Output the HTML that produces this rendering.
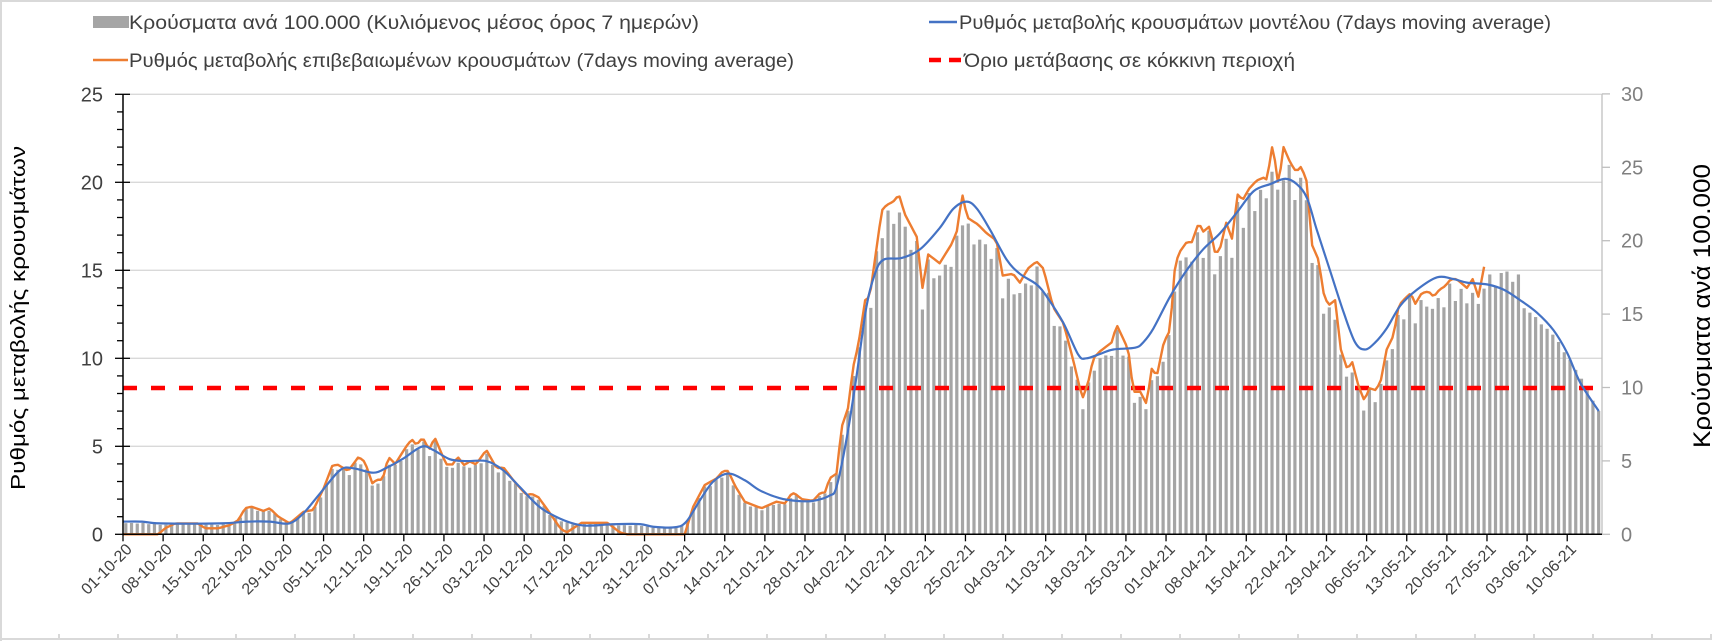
<!DOCTYPE html>
<html><head><meta charset="utf-8">
<style>
html,body{margin:0;padding:0;background:#fff;}
svg{display:block;font-family:"Liberation Sans",Arial,sans-serif;}
</style></head>
<body>
<svg id="c" width="1712" height="641" viewBox="0 0 1712 641" xmlns="http://www.w3.org/2000/svg">
<rect x="0" y="0" width="1712" height="641" fill="#fff"/>
<g id="frame" stroke="#d9d9d9" stroke-width="2" fill="none">
<line x1="0" y1="1" x2="1712" y2="1"/>
<line x1="1" y1="0" x2="1" y2="641"/>
<line x1="0" y1="639" x2="1712" y2="639"/>
</g>
<g id="grid" stroke="#d9d9d9" stroke-width="1.3"></g>
<g id="bars" fill="#a5a5a5"></g>
<line x1="123" y1="388" x2="1602" y2="388" stroke="#ff0000" stroke-width="4.5" stroke-dasharray="14,14"/>
<path id="orange" fill="none" stroke="#ed7d31" stroke-width="2.4" stroke-linejoin="round"/>
<path id="blue" fill="none" stroke="#4472c4" stroke-width="2.2" stroke-linejoin="round"/>
<g id="axes"></g>
<g id="labels"></g>
<!-- legend -->
<rect x="93" y="16" width="36" height="12" fill="#a5a5a5"/>
<text x="129" y="29" font-size="19" fill="#404040" textLength="570" lengthAdjust="spacingAndGlyphs">Κρούσματα ανά 100.000 (Κυλιόμενος μέσος όρος 7 ημερών)</text>
<line x1="93" y1="60" x2="128" y2="60" stroke="#ed7d31" stroke-width="2.5"/>
<text x="129" y="67" font-size="19" fill="#404040" textLength="665" lengthAdjust="spacingAndGlyphs">Ρυθμός μεταβολής επιβεβαιωμένων κρουσμάτων (7days moving average)</text>
<line x1="929" y1="22" x2="957" y2="22" stroke="#4472c4" stroke-width="2.5"/>
<text x="959" y="29" font-size="19" fill="#404040" textLength="592" lengthAdjust="spacingAndGlyphs">Ρυθμός μεταβολής κρουσμάτων μοντέλου (7days moving average)</text>
<line x1="929" y1="60" x2="962" y2="60" stroke="#ff0000" stroke-width="4.5" stroke-dasharray="12,8"/>
<text x="964" y="67" font-size="19" fill="#404040" textLength="331" lengthAdjust="spacingAndGlyphs">Όριο μετάβασης σε κόκκινη περιοχή</text>
<!-- axis titles -->
<text transform="translate(25,318) rotate(-90)" text-anchor="middle" font-size="20" fill="#000" textLength="344" lengthAdjust="spacingAndGlyphs">Ρυθμός μεταβολής κρουσμάτων</text>
<text transform="translate(1710,306) rotate(-90)" text-anchor="middle" font-size="24" fill="#000" textLength="284" lengthAdjust="spacingAndGlyphs">Κρούσματα ανά 100.000</text>
</svg>
<script>
(function(){
var NS="http://www.w3.org/2000/svg";
function el(t,a,p){var e=document.createElementNS(NS,t);for(var k in a)e.setAttribute(k,a[k]);if(p)p.appendChild(e);return e;}
var X0=123,DX=5.731,Y0=534.3,LU=17.6,RU=14.68,XR=1602;
function xd(d){return X0+d*DX;}
function interp(pts,d){
 if(d<=pts[0][0])return pts[0][1];
 for(var i=1;i<pts.length;i++){if(d<=pts[i][0]){var a=pts[i-1],b=pts[i];return a[1]+(b[1]-a[1])*(d-a[0])/(b[0]-a[0]);}}
 return pts[pts.length-1][1];
}
var orange=[[0,0],[6.2,0],[7.3,.34],[9.1,.62],[13.1,.62],[14.3,.34],[16.6,.34],[18.7,.53],[20.1,.8],[21.3,1.48],[22.4,1.57],[24.5,1.33],[25.6,1.48],[27.1,1.0],[29.1,.62],[31.5,1.28],[33.2,1.38],[35,2.6],[36.5,3.88],[37.4,3.97],[39.3,3.6],[41.1,4.4],[42.2,4.12],[43.5,2.9],[44.3,3.1],[45.3,3.1],[46.3,4.4],[47.5,4.0],[49.4,4.98],[50.4,5.4],[51.2,5.07],[52.3,5.5],[53.4,4.8],[54.4,5.5],[56.4,3.97],[57.5,3.97],[58.4,4.4],[59.6,3.9],[60.4,4.16],[61.6,3.97],[63.4,4.8],[65.2,3.75],[66.4,3.8],[68.1,3.07],[70.4,2.23],[71.3,2.3],[72.5,2.1],[74.5,1.2],[76.3,.34],[77.4,.1],[80,.65],[84.6,.65],[86.7,.1],[88,0],[98,0],[99.5,1.57],[101.5,2.8],[103.6,3.18],[104.7,3.6],[105.6,3.6],[106.8,2.75],[108.5,1.85],[111.4,1.48],[114,1.85],[115.5,1.76],[116.7,2.33],[117.2,2.33],[118.4,2.0],[120.4,1.9],[121.6,2.33],[122.5,2.4],[123.3,3.18],[124.5,3.45],[125.4,6.1],[126.5,7.16],[127.4,9.5],[128.3,10.75],[129.5,13.3],[130.3,13.5],[132.4,18.4],[133.2,18.7],[134.4,18.9],[135.4,19.3],[136.4,18.2],[138.5,16.9],[139.5,14.0],[140.5,15.9],[142.5,15.4],[144.6,16.5],[145.6,17.3],[146.4,19.4],[147.3,18.0],[149.2,17.6],[150.7,17.1],[152.4,16.7],[153.5,14.7],[155.3,14.8],[156.5,14.3],[157.9,15.1],[159.4,15.5],[160.6,15.1],[162.3,12.9],[164.1,12.0],[165.8,9.9],[167.4,7.7],[168.4,8.6],[169.3,10.0],[170.5,10.4],[172.5,10.9],[173.4,11.9],[175.4,10.5],[176.3,8.1],[177.5,8.1],[178.6,7.4],[179.5,9.4],[180.4,9.0],[181.6,10.9],[182.7,11.6],[183.6,15.4],[184.5,16.1],[185.6,16.6],[186.5,16.6],[187.7,17.7],[188.5,17.2],[189.6,17.5],[190.6,15.9],[191.4,16.2],[192.5,17.7],[193.5,16.8],[194.5,19.3],[195.4,19.0],[196.4,19.6],[197.8,20.1],[199.3,20.3],[199.6,20.1],[200.6,22.2],[201.6,19.8],[202.5,22.0],[203.7,21.1],[204.7,20.6],[205.6,20.9],[206.6,20.0],[207.4,16.5],[208.6,15.6],[209.5,13.7],[210.3,13.0],[211.5,13.3],[212.5,10.5],[213.7,9.3],[214.4,9.9],[215.6,8.4],[216.6,7.6],[217.5,8.3],[218.5,8.2],[219.4,8.6],[220.5,10.5],[221.7,11.3],[222.6,13.0],[223.7,13.4],[224.7,13.7],[225.5,13.1],[226.6,13.7],[227.8,13.8],[228.7,13.5],[229.7,13.9],[230.7,14.1],[231.7,14.5],[232.7,14.5],[234.5,14.0],[235.5,14.5],[236.5,13.5],[237.5,15.2]];
var blue=[[0,.72],[3.3,.72],[6.5,.62],[17,.62],[21.6,.72],[25.6,.72],[29,.62],[31.5,1.2],[34.4,2.33],[37.9,3.65],[40.2,3.75],[43.7,3.5],[46,3.78],[48.9,4.3],[52.1,4.98],[54.1,4.8],[57,4.27],[59.9,4.16],[63.4,4.16],[66.3,3.65],[69.2,2.7],[72.7,1.55],[76.2,.9],[79.6,.53],[81.9,.5],[85.4,.57],[90.2,.58],[92.5,.43],[96.3,.4],[98.3,.72],[100.7,1.95],[103,3.0],[105.6,3.45],[108.5,3.07],[111.1,2.5],[114.6,2.05],[117.5,1.9],[120.4,1.9],[123.3,2.2],[124.5,2.7],[126.3,5.5],[128,9.0],[129.7,12.9],[131.2,14.8],[132.7,15.6],[135.9,15.7],[139.1,16.2],[142.5,17.4],[144.9,18.5],[147.2,18.9],[149,18.5],[151.3,17.3],[154.2,15.6],[156.5,14.8],[159.4,14.2],[161.2,13.5],[164.1,12.0],[166.7,10.2],[168.1,10.0],[170.5,10.25],[172.8,10.5],[176.6,10.6],[178,10.9],[179.8,11.7],[182.7,13.5],[185.6,15.0],[188.5,16.2],[191.4,17.1],[194.4,18.3],[197.3,19.5],[200.2,19.9],[202.8,20.2],[204.8,19.9],[206.6,19.1],[208.3,17.3],[210.6,15.0],[213,12.6],[215,10.9],[216.7,10.5],[218.5,10.9],[220.5,11.7],[222.9,13.0],[225.8,13.9],[229.3,14.6],[232.2,14.5],[234.5,14.3],[238,14.2],[240.9,13.9],[243.8,13.3],[246.7,12.6],[249.6,11.6],[252,10.3],[254.3,8.6],[257.5,7.0]];
var tail={238:17.7,239:16.9,240:17.8,241:17.9,242:17.2,243:17.7,244:15.4,245:15.1,246:14.8,247:14.3,248:14.0,249:13.6,250:13.1,251:12.4,252:11.9,253:11.2,254:10.6,255:9.8,256:9.1,257:8.4};
var bg=document.getElementById('bars');
for(var d=0;d<=257;d++){
 var h;
 if(d>=238){h=tail[d]*RU;}
 else{
  var o=interp(orange,d+0.5),b=interp(blue,d+0.5);
  h=o*LU*0.95;
  if(o<0.8)h=Math.max(h,b*LU*0.88);
  h*=1+0.04*Math.sin(d*2.7);
 }
 el('rect',{x:(xd(d)+1.2).toFixed(2),y:(Y0-h).toFixed(2),width:3.2,height:h.toFixed(2)},bg);
}
var s='';
for(var d=0;d<=237.5;d+=0.5){var v=interp(orange,d);s+=(s?'L':'M')+xd(d).toFixed(2)+','+(Y0-v*LU).toFixed(2);}
document.getElementById('orange').setAttribute('d',s);
var pts=blue.map(function(p){return [xd(p[0]),Y0-p[1]*LU];});
var bs='M'+pts[0][0].toFixed(2)+','+pts[0][1].toFixed(2);
for(var i=0;i<pts.length-1;i++){
 var p0=pts[Math.max(0,i-1)],p1=pts[i],p2=pts[i+1],p3=pts[Math.min(pts.length-1,i+2)];
 var c1x=p1[0]+(p2[0]-p0[0])/6,c1y=p1[1]+(p2[1]-p0[1])/6,c2x=p2[0]-(p3[0]-p1[0])/6,c2y=p2[1]-(p3[1]-p1[1])/6;
 bs+='C'+c1x.toFixed(2)+','+c1y.toFixed(2)+' '+c2x.toFixed(2)+','+c2y.toFixed(2)+' '+p2[0].toFixed(2)+','+p2[1].toFixed(2);
}
document.getElementById('blue').setAttribute('d',bs);
var g=document.getElementById('grid');
for(var v=5;v<=25;v+=5){var y=Y0-v*LU;el('line',{x1:X0,y1:y,x2:XR,y2:y},g);}
var ax=document.getElementById('axes'),lb=document.getElementById('labels');
el('line',{x1:XR,y1:Y0-25*LU,x2:XR,y2:Y0,stroke:'#bfbfbf','stroke-width':1.3},ax);
for(var v=0;v<=30;v+=5){var y=Y0-v*RU;el('line',{x1:XR,y1:y,x2:XR+8,y2:y,stroke:'#bfbfbf','stroke-width':1.3},ax);
 var t=el('text',{x:XR+19,y:y+7,'font-size':20,fill:'#808080'},lb);t.textContent=v;}
el('line',{x1:X0,y1:Y0-25*LU,x2:X0,y2:Y0+1,stroke:'#000','stroke-width':1.5},ax);
for(var v=0;v<=25;v++){var y=Y0-v*LU;var maj=v%5==0;
 el('line',{x1:maj?115:117,y1:y,x2:maj?130:X0,y2:y,stroke:'#000','stroke-width':1.3},ax);
 if(maj){var t=el('text',{x:103,y:y+7,'font-size':20,fill:'#404040','text-anchor':'end'},lb);t.textContent=v;}}
el('line',{x1:X0,y1:Y0,x2:XR,y2:Y0,stroke:'#000','stroke-width':1.5},ax);
var names=['01-10-20','08-10-20','15-10-20','22-10-20','29-10-20','05-11-20','12-11-20','19-11-20','26-11-20','03-12-20','10-12-20','17-12-20','24-12-20','31-12-20','07-01-21','14-01-21','21-01-21','28-01-21','04-02-21','11-02-21','18-02-21','25-02-21','04-03-21','11-03-21','18-03-21','25-03-21','01-04-21','08-04-21','15-04-21','22-04-21','29-04-21','06-05-21','13-05-21','20-05-21','27-05-21','03-06-21','10-06-21'];
for(var k=0;k<names.length;k++){var x=xd(7*k);
 el('line',{x1:x,y1:Y0,x2:x,y2:Y0+7,stroke:'#000','stroke-width':1.3},ax);
 var t=el('text',{transform:'translate('+(x+6).toFixed(1)+','+(Y0+12)+') rotate(-45)','text-anchor':'end','font-size':16,fill:'#404040',dy:'0.35em'},lb);t.textContent=names[k];}
var fr=document.getElementById('frame');
for(var x=59;x<1712;x+=59){el('line',{x1:x,y1:634,x2:x,y2:639},fr);}
})();
</script>
</body></html>
